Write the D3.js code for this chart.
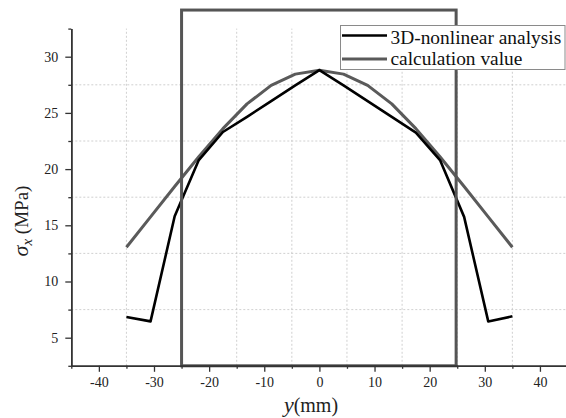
<!DOCTYPE html>
<html>
<head>
<meta charset="utf-8">
<script src="https://cdn.jsdelivr.net/npm/d3@7/dist/d3.min.js"></script>
<style>
  html, body { margin: 0; padding: 0; background: #fff; }
  svg { display: block; }
</style>
</head>
<body>
<svg id="chart" width="566" height="418"></svg>
<script>
// Transverse position y (mm) across the section
const positions = [-35, -30.625, -26.25, -21.875, -17.5, -13.125, -8.75, -4.375, 0,
                   4.375, 8.75, 13.125, 17.5, 21.875, 26.25, 30.625, 35];
// Longitudinal stress sigma_x (MPa)
const nonlinear3D = [6.85, 6.45, 15.8, 20.8, 23.3, 24.65, 26.05, 27.45, 28.8,
                     27.45, 26.05, 24.65, 23.25, 20.8, 15.75, 6.45, 6.9];
const calculated = [13.05, 15.75, 18.45, 21.1, 23.6, 25.8, 27.45, 28.45, 28.8,
                    28.45, 27.45, 25.8, 23.6, 21.1, 18.45, 15.75, 13.05];
const seriesNames = ["3D-nonlinear analysis", "calculation value"];
const xMajorTicks = [-40, -30, -20, -10, 0, 10, 20, 30, 40];
const xMinorTicks = [-45, -35, -25, -15, -5, 5, 15, 25, 35, 45];
const yMajorTicks = [5, 10, 15, 20, 25, 30];
const yMinorTicks = [2.5, 7.5, 12.5, 17.5, 22.5, 27.5, 32.5];
// Section outline: half-width and top level
const sectionX = [-25, 24.8];
const sectionY = [2.5, 34.15];

const SERIF = '"Liberation Serif", "Times New Roman", serif';
const svg = d3.select("#chart");
const x = d3.scaleLinear().domain([-45, 45]).range([71.3, 567.5]);
const y = d3.scaleLinear().domain([2.5, 32.5]).range([365.8, 28.6]);

// grid on the minor tick positions
const grid = svg.append("g").attr("stroke", "#c4c4c4").attr("stroke-width", 0.8)
  .attr("stroke-dasharray", "2,2");
grid.selectAll("line.v").data(xMinorTicks.filter(d => d > -45 && d < 45)).join("line")
  .attr("class", "v")
  .attr("x1", d => x(d)).attr("x2", d => x(d))
  .attr("y1", y(2.5)).attr("y2", y(32.5));
grid.selectAll("line.h").data(yMinorTicks.filter(d => d > 2.5 && d < 32.5)).join("line")
  .attr("class", "h")
  .attr("x1", x(-45)).attr("x2", x(45))
  .attr("y1", d => y(d)).attr("y2", d => y(d));

// curves
const line = d3.line().x((d, i) => x(positions[i])).y(d => y(d));
svg.append("path").datum(calculated).attr("d", line)
  .attr("fill", "none").attr("stroke", "#5a5a5a").attr("stroke-width", 3)
  .attr("stroke-linejoin", "round");
svg.append("path").datum(nonlinear3D).attr("d", line)
  .attr("fill", "none").attr("stroke", "#000").attr("stroke-width", 2.6)
  .attr("stroke-linejoin", "round");

// section outline
svg.append("rect")
  .attr("x", x(sectionX[0])).attr("y", y(sectionY[1]))
  .attr("width", x(sectionX[1]) - x(sectionX[0]))
  .attr("height", y(sectionY[0]) - y(sectionY[1]))
  .attr("fill", "none").attr("stroke", "#555").attr("stroke-width", 3);

// axes
function styleAxis(g) {
  g.attr("font-family", null).attr("font-size", null);
  g.select(".domain").attr("stroke", "#333").attr("stroke-width", 1.5);
  g.selectAll(".tick line").attr("stroke", "#333").attr("stroke-width", 1.3);
  g.selectAll(".tick text").style("font-family", SERIF)
    .style("font-size", "14px").attr("fill", "#222");
}
svg.append("g").attr("transform", `translate(0,${y(2.5)})`)
  .call(d3.axisBottom(x).tickValues(xMajorTicks).tickSize(6).tickSizeOuter(0).tickPadding(5)
    .tickFormat(d => String(d)))
  .call(styleAxis);
svg.append("g").attr("transform", `translate(0,${y(2.5)})`)
  .call(d3.axisBottom(x).tickValues(xMinorTicks).tickSize(3).tickSizeOuter(0).tickFormat(""))
  .call(styleAxis);
svg.append("g").attr("transform", `translate(${x(-45)},0)`)
  .call(d3.axisLeft(y).tickValues(yMajorTicks).tickSize(6).tickSizeOuter(0).tickPadding(7)
    .tickFormat(d => String(d)))
  .call(styleAxis);
svg.append("g").attr("transform", `translate(${x(-45)},0)`)
  .call(d3.axisLeft(y).tickValues(yMinorTicks).tickSize(3).tickSizeOuter(0).tickFormat(""))
  .call(styleAxis);

// axis titles
const xTitle = svg.append("text").attr("x", 311).attr("y", 412)
  .attr("text-anchor", "middle").style("font-family", SERIF).style("font-size", "20px")
  .attr("fill", "#222");
xTitle.append("tspan").attr("font-style", "italic").style("font-size", "22px").text("y");
xTitle.append("tspan").text("(mm)");

const yTitle = svg.append("text")
  .attr("transform", "translate(28,221) rotate(-90)")
  .attr("text-anchor", "middle").style("font-family", SERIF).style("font-size", "19px")
  .attr("fill", "#222");
yTitle.append("tspan").attr("font-style", "italic").style("font-size", "22px").text("σ");
yTitle.append("tspan").attr("font-style", "italic").style("font-size", "15px").attr("dy", 4).text("x");
yTitle.append("tspan").attr("dy", -4).text(" (MPa)");

// legend
const legend = svg.append("g");
legend.append("rect").attr("x", 340.5).attr("y", 25.5).attr("width", 224.5).attr("height", 44)
  .attr("fill", "#fff").attr("stroke", "#8a8a8a").attr("stroke-width", 1);
const legendColors = ["#000", "#5a5a5a"];
const legendWidths = [2.6, 3];
const legendLineY = [35.5, 59];
const legendTextY = [44, 65];
seriesNames.forEach((name, i) => {
  legend.append("line").attr("x1", 342).attr("x2", 387)
    .attr("y1", legendLineY[i]).attr("y2", legendLineY[i])
    .attr("stroke", legendColors[i]).attr("stroke-width", legendWidths[i]);
  legend.append("text").attr("x", 390.5).attr("y", legendTextY[i])
    .style("font-family", SERIF).style("font-size", "19.4px").attr("fill", "#111").text(name);
});
</script>
</body>
</html>
